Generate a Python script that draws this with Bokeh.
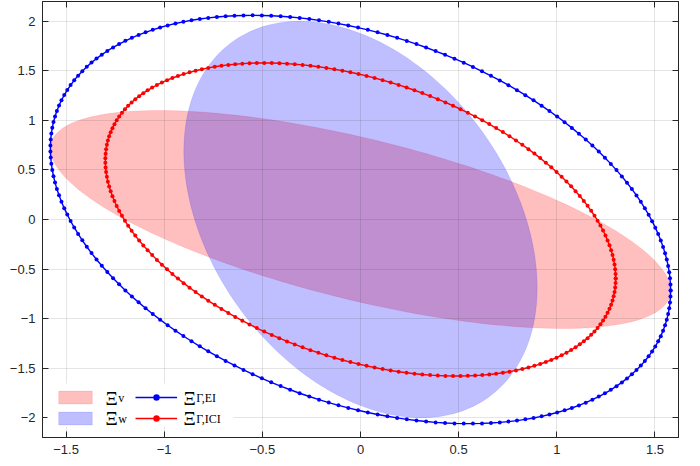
import numpy as np
from bokeh.plotting import figure
from bokeh.models import (Range1d, LinearAxis, FixedTicker, Legend, LegendItem, Label,
                          BoxAnnotation)
from bokeh.embed import file_html
from bokeh.resources import INLINE

# ---- data: ellipsoidal sets, centre and shape matrix [q11, q12, q22] ----
ellipse_center = [0.0, 0.0]
shape_v = [2.496, -1.131, 1.21]      # Xi_v  (pink filled)
shape_w = [0.81, -0.62, 4.0]         # Xi_w  (lavender filled)
shape_ei = [2.496, -1.133, 4.244]    # Xi_Gamma,EI  (blue dotted line)
shape_ici = [1.69, -0.774, 2.496]    # Xi_Gamma,ICI (red dotted line)
n_boundary = 200

x_ticks = [-1.5, -1.0, -0.5, 0.0, 0.5, 1.0, 1.5]
y_ticks = [-2.0, -1.5, -1.0, -0.5, 0.0, 0.5, 1.0, 1.5, 2.0]
x_limits = [-1.62, 1.62]
y_limits = [-2.2, 2.2]

legend_main = ["Ξ", "Ξ", "Ξ", "Ξ"]
legend_subs = ["v", "w", "Γ,EI", "Γ,ICI"]


def boundary(center, shape, n):
    q11, q12, q22 = shape
    l11 = np.sqrt(q11)
    l21 = q12 / l11
    l22 = np.sqrt(q22 - l21 ** 2)
    t = np.linspace(0.0, 2.0 * np.pi, n)
    return center[0] + l11 * np.cos(t), center[1] + l21 * np.cos(t) + l22 * np.sin(t)


AX = "#262626"
p = figure(width=700, height=466,
           x_range=Range1d(*x_limits), y_range=Range1d(*y_limits),
           output_backend="svg", toolbar_location=None,
           min_border_left=42, min_border_right=22, min_border_top=1, min_border_bottom=29,
           background_fill_color="white", border_fill_color="white",
           outline_line_color=AX)

vx, vy = boundary(ellipse_center, shape_v, n_boundary)
wx, wy = boundary(ellipse_center, shape_w, n_boundary)
ex, ey = boundary(ellipse_center, shape_ei, n_boundary)
ix, iy = boundary(ellipse_center, shape_ici, n_boundary)

r_v = p.patch(vx, vy, fill_color="red", fill_alpha=0.25, line_color="red", line_alpha=0.1, line_width=1)
r_w = p.patch(wx, wy, fill_color="blue", fill_alpha=0.25, line_color="blue", line_alpha=0.1, line_width=1)
l_ei = p.line(ex, ey, line_color="blue", line_width=1.4)
d_ei = p.scatter(ex, ey, marker="circle", size=4, fill_color="blue", line_color=None)
l_ici = p.line(ix, iy, line_color="red", line_width=1.4)
d_ici = p.scatter(ix, iy, marker="circle", size=4, fill_color="red", line_color=None)

# axes: box with inward ticks on all sides
p.add_layout(LinearAxis(), "above")
p.add_layout(LinearAxis(), "right")
for ax in p.xaxis:
    ax.ticker = FixedTicker(ticks=x_ticks)
for ax in p.yaxis:
    ax.ticker = FixedTicker(ticks=y_ticks)
for ax in p.xaxis + p.yaxis:
    ax.major_tick_in = 6
    ax.major_tick_out = 0
    ax.minor_tick_line_color = None
    ax.axis_line_color = AX
    ax.major_tick_line_color = AX
    ax.major_label_text_font = "Liberation Sans"
    ax.major_label_text_font_size = "13px"
    ax.major_label_text_color = AX
p.below[0].major_label_standoff = 7
p.left[0].major_label_standoff = 7
p.above[0].major_label_overrides = {t: "" for t in x_ticks}
p.right[0].major_label_overrides = {t: "" for t in y_ticks}
for ax in (p.above[0], p.right[0]):
    ax.major_label_text_font_size = "1px"
    ax.major_label_standoff = 0

p.xgrid.ticker = FixedTicker(ticks=x_ticks)
p.ygrid.ticker = FixedTicker(ticks=y_ticks)
for g in (p.xgrid[0], p.ygrid[0]):
    g.grid_line_color = AX
    g.grid_line_alpha = 0.12
    g.level = "guide"

# white legend box (hides grid lines), drawn before legend and its texts
p.add_layout(BoxAnnotation(left=5, right=191, bottom=11, top=54,
                           left_units="screen", right_units="screen",
                           bottom_units="screen", top_units="screen",
                           fill_color="white", fill_alpha=1.0, line_color=None,
                           level="annotation"))

# legend glyphs (texts drawn as labels below)
items = [
    LegendItem(label=" ", renderers=[r_v]),
    LegendItem(label=" ", renderers=[r_w]),
    LegendItem(label=" ", renderers=[l_ei, d_ei]),
    LegendItem(label=" ", renderers=[l_ici, d_ici]),
]
pad, gw, gh, stand, lw, lh = 4, 42, 16, 4, 35, 21
legend = Legend(items=items, location=(12, 9), orientation="vertical", nrows=2,
                glyph_width=gw, glyph_height=gh, label_standoff=stand,
                label_width=lw, label_height=lh, spacing=0, padding=pad, margin=0,
                label_text_font="Liberation Serif", label_text_font_size="12px",
                background_fill_alpha=0.0, border_line_color=None)
p.add_layout(legend)

col_main = [63, 141]
col_sub = [75.7, 153.7]
row_base = [39.4, 18.7]
for i in range(4):
    col, row = divmod(i, 2)
    p.add_layout(Label(x=col_main[col], y=row_base[row], x_units="screen", y_units="screen",
                       text=legend_main[i], text_font="Liberation Serif", text_font_size="19px",
                       text_color="black", text_baseline="alphabetic", level="overlay"))
    p.add_layout(Label(x=col_sub[col], y=row_base[row], x_units="screen", y_units="screen",
                       text=legend_subs[i], text_font="Liberation Serif", text_font_size="12px",
                       text_color="black", text_baseline="alphabetic", level="overlay"))

open("out.html", "w").write(file_html(p, INLINE, title=""))
